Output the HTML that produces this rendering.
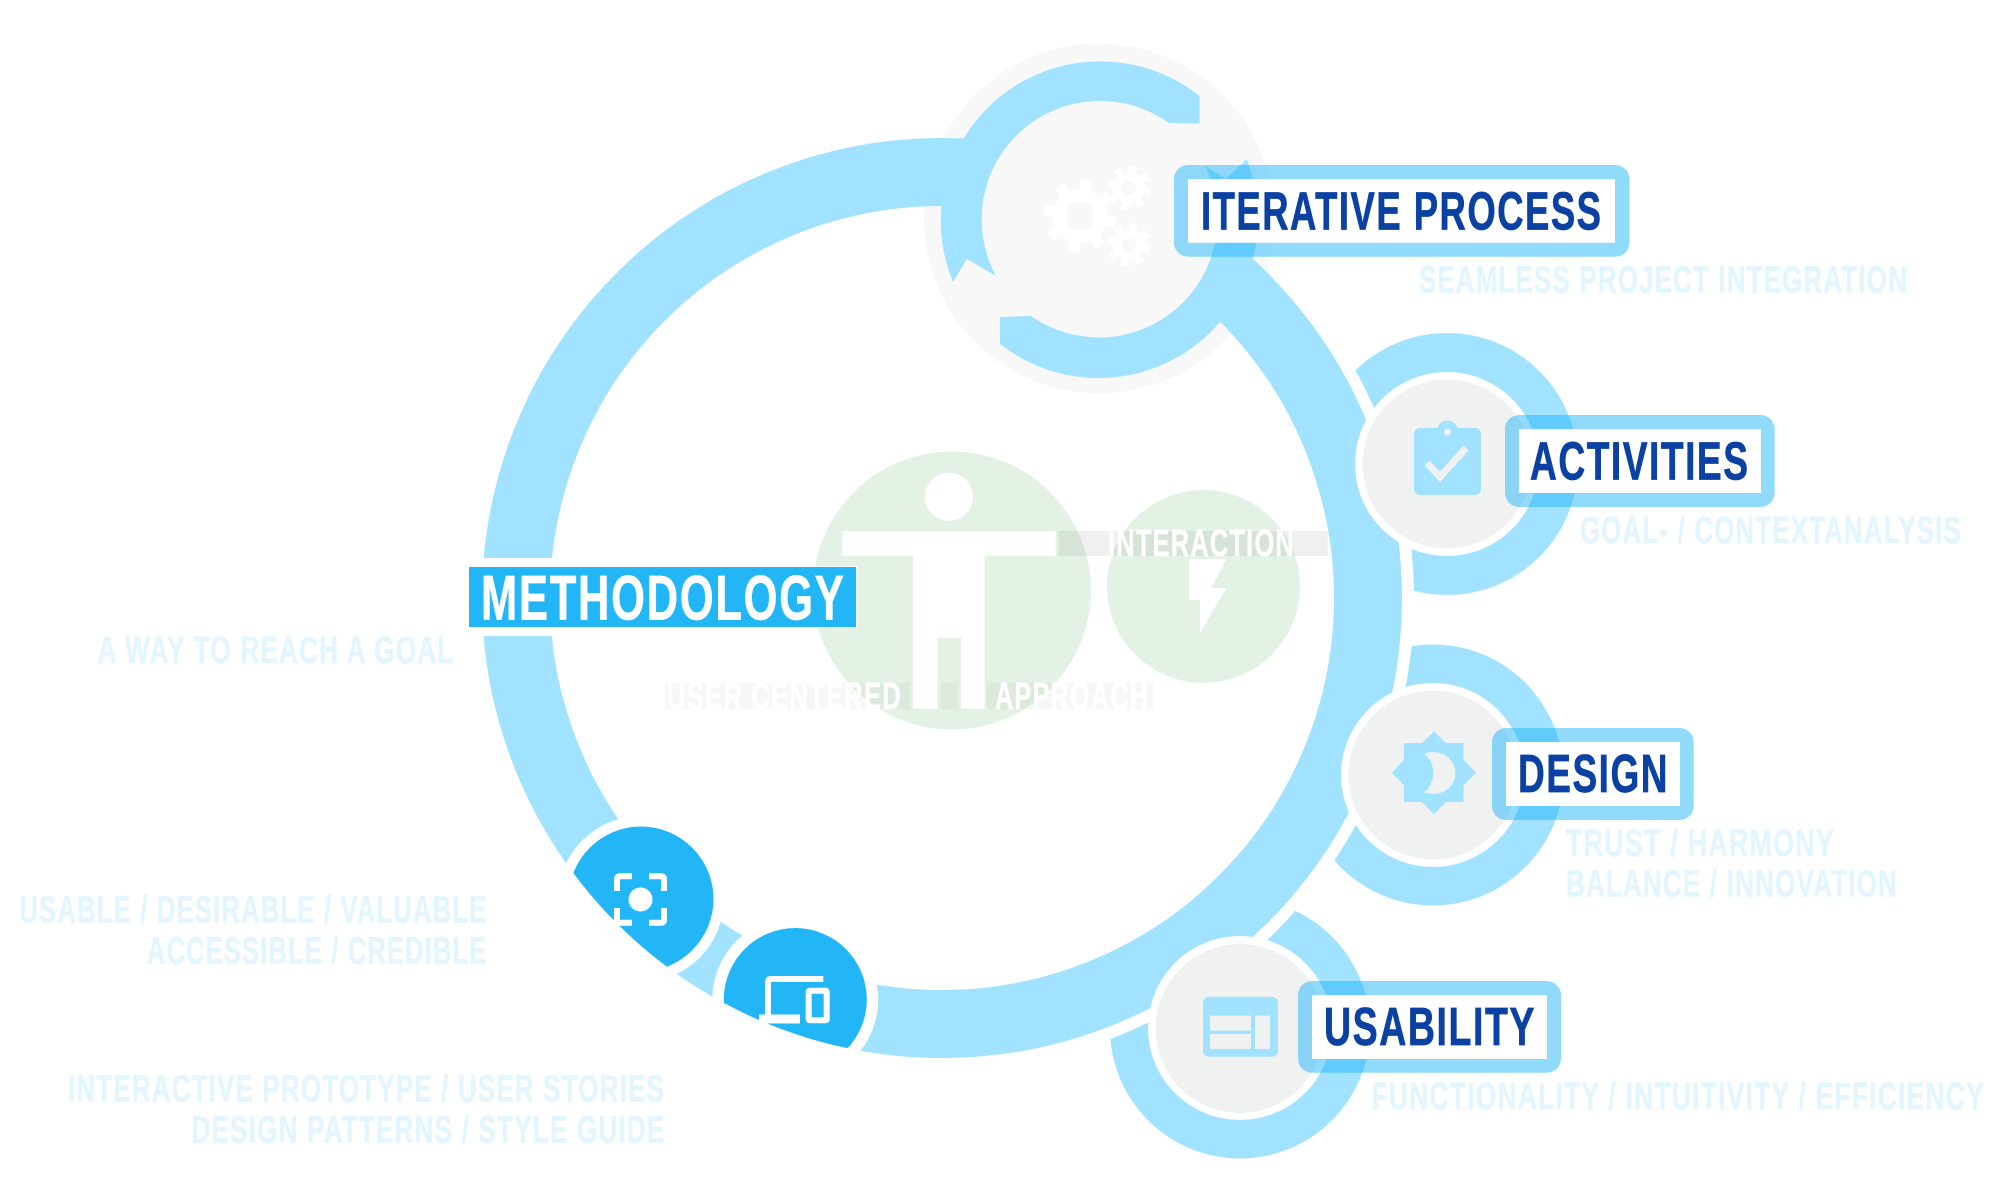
<!DOCTYPE html>
<html><head><meta charset="utf-8"><style>
html,body{margin:0;padding:0;background:#fff;width:2000px;height:1200px;overflow:hidden}
svg{display:block}
text{font-family:"Liberation Sans",sans-serif;font-weight:700}
.d{fill:#0B41A2;font-size:54px;letter-spacing:2.2px;stroke:#0B41A2;stroke-width:.7px}
.l{fill:#E3F5FE;font-size:37.8px;letter-spacing:1.8px;stroke:#E3F5FE;stroke-width:.6px}
.w{fill:#fff;font-size:37.8px;letter-spacing:1.8px;stroke:#fff;stroke-width:.5px}
.f{fill:#A0E2FF}
.b{fill:rgba(34,182,247,.5);fill-rule:evenodd}
</style></head><body>
<svg width="2000" height="1200" viewBox="0 0 2000 1200" xmlns="http://www.w3.org/2000/svg">
<defs><clipPath id="c"><circle cx="942" cy="598" r="460"/></clipPath></defs>
<rect width="2000" height="1200" fill="#fff"/>
<!-- outer node discs -->
<circle class="f" cx="1447" cy="464" r="131"/>
<circle class="f" cx="1433" cy="775" r="130.5"/>
<circle class="f" cx="1240" cy="1028.5" r="130"/>
<circle cx="942" cy="598" r="472" fill="#fff"/>
<!-- green circles -->
<circle cx="952" cy="590.5" r="139" fill="#E4F2E5"/>
<circle cx="1203.5" cy="586.5" r="96.5" fill="#E4F2E5"/>
<!-- iter backdrop -->
<circle cx="1099" cy="218.5" r="175" fill="#F8F8F8"/>
<!-- main ring -->
<circle cx="942" cy="598" r="426" fill="none" stroke="#A0E2FF" stroke-width="68"/>
<rect x="475" y="558" width="90" height="78" fill="#fff"/>
<circle cx="1099" cy="219.5" r="118.5" fill="#F8F8F8"/>
<!-- gears -->
<g fill="#fff">
<circle cx="1080" cy="216" r="27"/>
<circle cx="1080" cy="216" r="31" fill="none" stroke="#fff" stroke-width="11" stroke-dasharray="11 13.35"/>
<circle cx="1129" cy="188" r="16"/>
<circle cx="1129" cy="188" r="18.5" fill="none" stroke="#fff" stroke-width="7" stroke-dasharray="7.5 7.03"/>
<circle cx="1129" cy="245" r="16"/>
<circle cx="1129" cy="245" r="18.5" fill="none" stroke="#fff" stroke-width="7" stroke-dasharray="7.5 7.03"/>
</g>
<circle cx="1080" cy="216" r="14" fill="#F8F8F8"/>
<circle cx="1129" cy="188" r="7" fill="#F8F8F8"/>
<circle cx="1129" cy="245" r="7" fill="#F8F8F8"/>
<!-- iter arcs -->
<path class="f" d="M953 282A159.5 159.5 0 0 1 1199.6 96L1199.6 123.5L1169 123A118.5 118.5 0 0 0 996 276L967 259Z"/>
<path class="f" d="M1000 344A159.5 159.5 0 0 0 1246.7 159.5L1226 179L1205 166A118.5 118.5 0 0 1 1031 316L1000 317Z"/>
<!-- node faces -->
<circle cx="1447" cy="464" r="92" fill="#fff"/><circle cx="1447" cy="464" r="84.5" fill="#F0F2F1"/>
<circle cx="1433" cy="775" r="92" fill="#fff"/><circle cx="1433" cy="775" r="84.5" fill="#F0F2F1"/>
<circle cx="1240" cy="1028" r="92" fill="#fff"/><circle cx="1240" cy="1028.5" r="84.5" fill="#F0F2F1"/>
<!-- clipboard icon -->
<rect class="f" x="1414" y="428" width="67" height="67" rx="6"/>
<circle class="f" cx="1447.5" cy="431" r="10.5"/>
<circle cx="1447.5" cy="432" r="3.5" fill="#F0F2F1"/>
<polyline points="1427,463 1440,477 1466,448" fill="none" stroke="#F0F2F1" stroke-width="7"/>
<!-- sun/moon icon -->
<path class="f" d="M1434 731.5L1446 743H1463.5V760L1476 772.7L1463.5 785.5V802H1446L1434 814.5L1422 802H1404V785.5L1392 772.7L1404 760V743H1422Z"/>
<path d="M1424 754A22 21 0 1 1 1424 792A16 21 0 0 0 1424 754Z" fill="#F0F2F1"/>
<!-- layout icon -->
<rect class="f" x="1203" y="996.7" width="75" height="60" rx="6"/>
<g fill="#F0F2F1"><rect x="1210" y="1015.7" width="41" height="15"/><rect x="1210" y="1034" width="41" height="15"/><rect x="1255" y="1015.7" width="15" height="33.3"/></g>
<!-- bottom-left nodes -->
<circle cx="641" cy="899" r="83" fill="#fff"/>
<circle cx="795.3" cy="999.5" r="83" fill="#fff"/>
<g clip-path="url(#c)"><circle cx="641" cy="899" r="72.5" fill="#22B6F7"/><circle cx="795.3" cy="999.5" r="71.5" fill="#22B6F7"/></g>
<circle cx="640.5" cy="899.5" r="12" fill="#fff"/>
<g fill="none" stroke="#fff" stroke-width="6">
<path d="M617 891V879Q617 876.3 620 876.3H632"/>
<path d="M649 876.3H661Q664 876.3 664 879V891"/>
<path d="M617 908V922.7H632"/>
<path d="M649 922.7H661Q664 922.7 664 920V908"/>
<path d="M823.3 979H771Q768 979 768 982V1016"/>
<path d="M759 1019H800" stroke-width="9"/>
<rect x="808.7" y="990.7" width="18" height="29.6" rx="1"/>
</g>
<!-- person -->
<circle cx="949" cy="496.7" r="24" fill="#fff"/>
<path d="M842.5 531H1055.7V555.7H984.6V708.7H961V637.7H937.5V708.7H913V555.7H842.5Z" fill="#fff"/>
<!-- bands -->
<rect x="1058.6" y="531" width="269" height="25" fill="rgba(0,0,0,.06)"/>
<rect x="665" y="683" width="245" height="26" fill="rgba(0,0,0,.03)"/>
<rect x="940.7" y="683" width="16.8" height="26" fill="rgba(0,0,0,.03)"/>
<rect x="987" y="683" width="166" height="26" fill="rgba(0,0,0,.03)"/>
<path d="M1189 559H1226.4L1211.4 588H1226.4L1200 632.7V600H1189Z" fill="#fff"/>
<text class="w" x="1108" y="556" textLength="187" lengthAdjust="spacingAndGlyphs">INTERACTION</text>
<text class="w" x="667" y="709" textLength="235" lengthAdjust="spacingAndGlyphs">USER CENTERED</text>
<text class="w" x="995" y="709" textLength="154" lengthAdjust="spacingAndGlyphs">APPROACH</text>
<!-- label boxes -->
<path class="b" d="M1188 165H1615.5A14 14 0 0 1 1629.5 179V242.7A14 14 0 0 1 1615.5 256.7H1188A14 14 0 0 1 1174 242.7V179A14 14 0 0 1 1188 165ZM1188 179V242.7H1615V179Z"/>
<rect x="1188" y="179" width="427" height="63.7" fill="#fff"/>
<text class="d" x="1201" y="229.3" textLength="401.5" lengthAdjust="spacingAndGlyphs">ITERATIVE PROCESS</text>
<path class="b" d="M1519 415H1760.6A14 14 0 0 1 1774.6 429V493A14 14 0 0 1 1760.6 507H1519A14 14 0 0 1 1505 493V429A14 14 0 0 1 1519 415ZM1519 429V493H1761V429Z"/>
<rect x="1519" y="429" width="242" height="64" fill="#fff"/>
<text class="d" x="1530" y="479.5" textLength="219.5" lengthAdjust="spacingAndGlyphs">ACTIVITIES</text>
<path class="b" d="M1506 728H1679.7A14 14 0 0 1 1693.7 742V806A14 14 0 0 1 1679.7 820H1506A14 14 0 0 1 1492 806V742A14 14 0 0 1 1506 728ZM1506 742V806H1680V742Z"/>
<rect x="1506" y="742" width="174" height="64" fill="#fff"/>
<text class="d" x="1518" y="792" textLength="151" lengthAdjust="spacingAndGlyphs">DESIGN</text>
<path class="b" d="M1312 981H1547A14 14 0 0 1 1561 995V1058.7A14 14 0 0 1 1547 1072.7H1312A14 14 0 0 1 1298 1058.7V995A14 14 0 0 1 1312 981ZM1312 995V1059H1547V995Z"/>
<rect x="1312" y="995" width="235" height="64" fill="#fff"/>
<text class="d" x="1324" y="1045" textLength="212" lengthAdjust="spacingAndGlyphs">USABILITY</text>
<!-- methodology -->
<rect x="468.5" y="566.5" width="388" height="61" fill="#22B6F7" stroke="#fff" stroke-width="1"/>
<text x="481" y="619.3" fill="#fff" stroke="#fff" stroke-width=".7" font-size="63.5" letter-spacing="2.5" textLength="364.5" lengthAdjust="spacingAndGlyphs">METHODOLOGY</text>
<!-- light labels -->
<text class="l" x="1419" y="292.7" textLength="489" lengthAdjust="spacingAndGlyphs">SEAMLESS PROJECT INTEGRATION</text>
<text class="l" x="1580" y="543" textLength="382" lengthAdjust="spacingAndGlyphs">GOAL- / CONTEXTANALYSIS</text>
<text class="l" x="1566" y="856" textLength="269" lengthAdjust="spacingAndGlyphs">TRUST / HARMONY</text>
<text class="l" x="1566" y="896.7" textLength="332" lengthAdjust="spacingAndGlyphs">BALANCE / INNOVATION</text>
<text class="l" x="1371.5" y="1109" textLength="613.5" lengthAdjust="spacingAndGlyphs">FUNCTIONALITY / INTUITIVITY / EFFICIENCY</text>
<text class="l" x="97.5" y="663" textLength="357" lengthAdjust="spacingAndGlyphs">A WAY TO REACH A GOAL</text>
<text class="l" x="19.5" y="922.7" textLength="468" lengthAdjust="spacingAndGlyphs">USABLE / DESIRABLE / VALUABLE</text>
<text class="l" x="147" y="963.7" textLength="340.5" lengthAdjust="spacingAndGlyphs">ACCESSIBLE / CREDIBLE</text>
<text class="l" x="68" y="1101.7" textLength="597" lengthAdjust="spacingAndGlyphs">INTERACTIVE PROTOTYPE / USER STORIES</text>
<text class="l" x="191.5" y="1142.7" textLength="474" lengthAdjust="spacingAndGlyphs">DESIGN PATTERNS / STYLE GUIDE</text>
</svg>
</body></html>
